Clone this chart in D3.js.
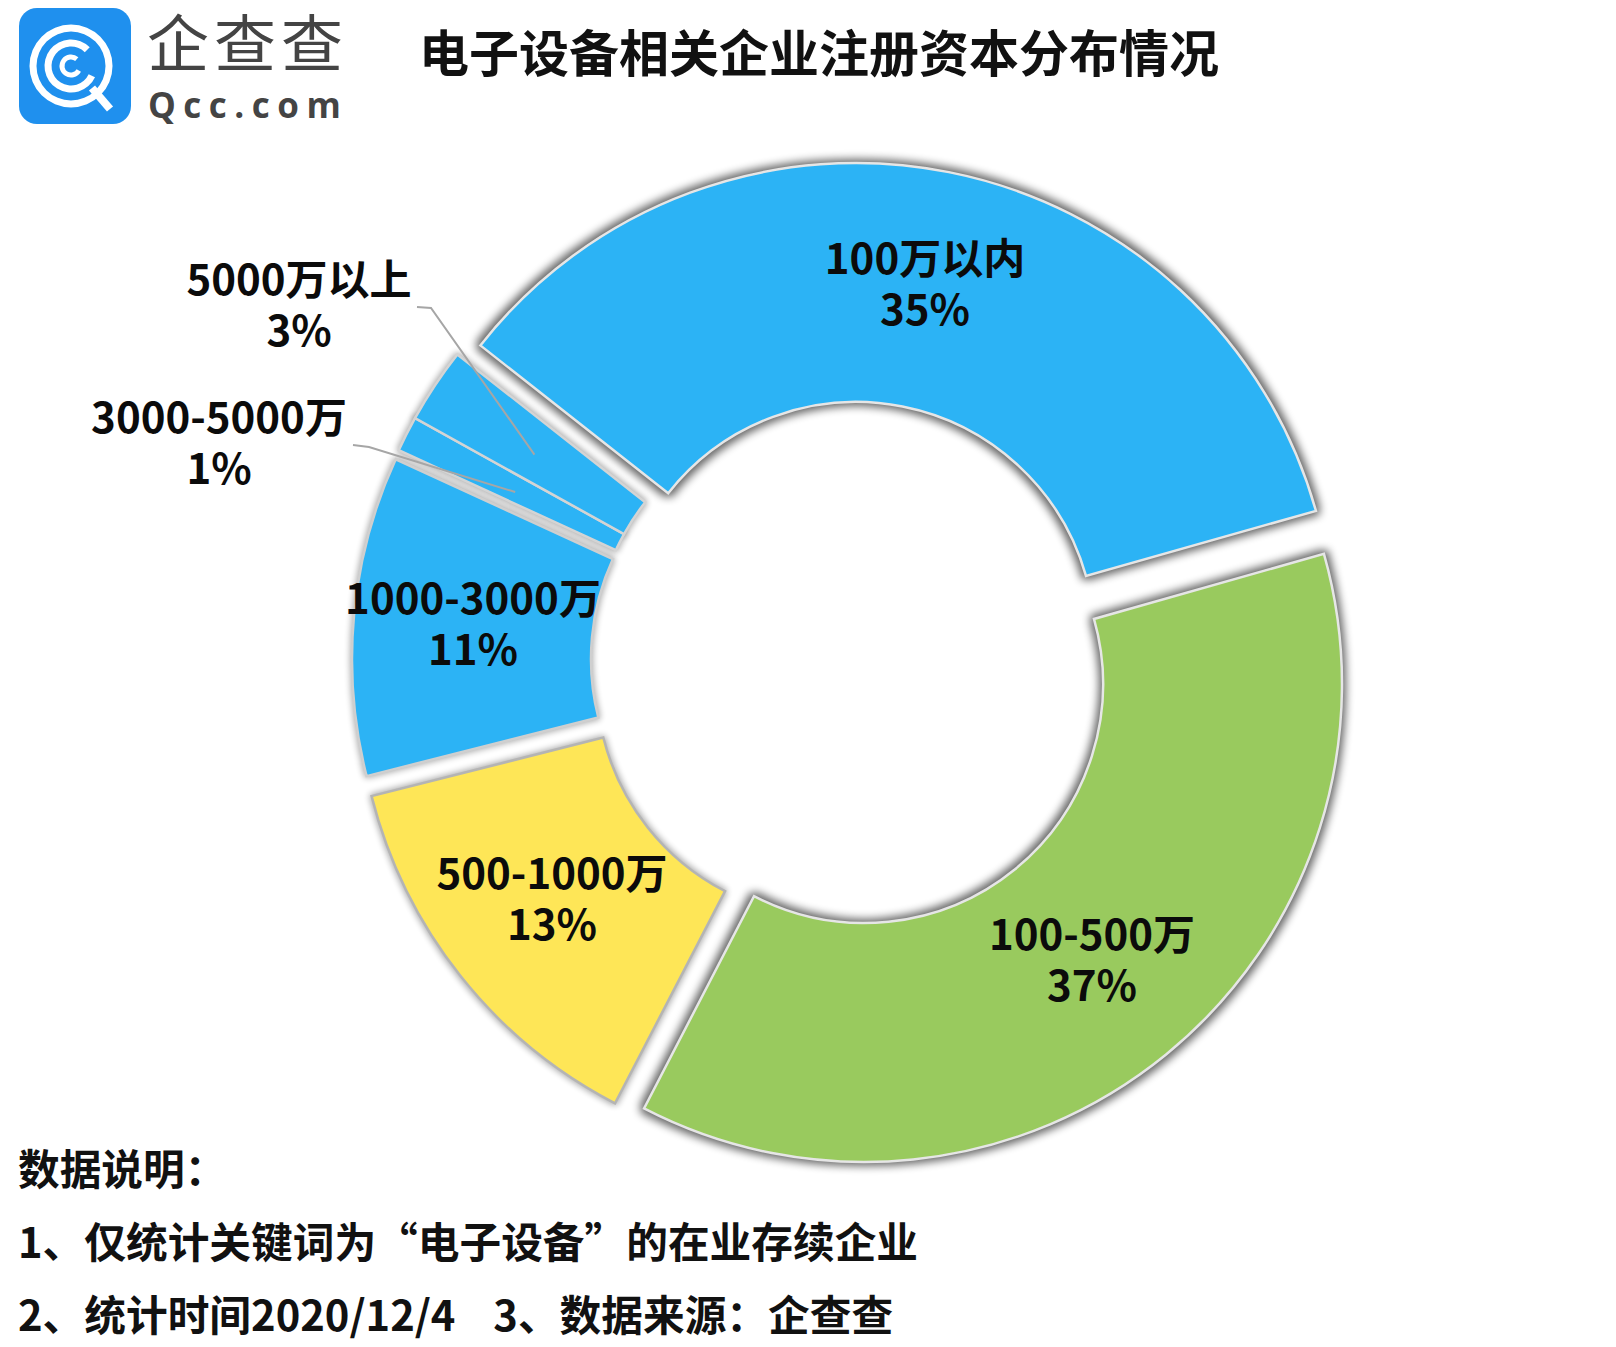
<!DOCTYPE html>
<html>
<head>
<meta charset="utf-8">
<title>电子设备相关企业注册资本分布情况</title>
<script src="https://cdn.jsdelivr.net/npm/d3@7"></script>
<style>
  html, body { margin: 0; padding: 0; background: #fff; }
  svg { display: block; }
  text { font-family: "Noto Sans CJK SC", "Noto Sans", sans-serif; }
</style>
</head>
<body>
<div id="chart"></div>
<script>
// data
const categories = ['100万以内', '100-500万', '500-1000万', '1000-3000万', '3000-5000万', '5000万以上'];
const shares = [35, 37, 13.45, 10.8, 1.2, 2.55];
const sliceColors = ['#2cb3f5', '#99ca5e', '#fee657', '#2cb3f5', '#2cb3f5', '#2cb3f5'];
const notes = [
  '数据说明：',
  '1、仅统计关键词为“电子设备”的在业存续企业',
  '2、统计时间2020/12/4\u00a0\u00a0\u00a0\u00a03、数据来源：企查查'
];

// layout
const width = 1616, height = 1347;
const cx = 856, cy = 670;
const outerR = 478, innerR = 239;
const startAngle = -51.8 * Math.PI / 180;
// how far each slice was pulled out of the ring
const sliceShift = [[0, -29], [8, 14], [-21, 9], [-26, -11], [-23, -20], [-23, -20]];
const sliceStroke = ['#e6e6e6', '#e6e6e6', '#b4b4b4', '#cfcfcf', '#d4d4d4', '#d4d4d4'];
const sliceShade = ['strong', 'strong', 'weak', 'weak', 'weak', 'weak'];
// hand placed labels, centre of the first line
const labelPos = [[925, 259], [1092, 935], [552, 874], [473, 599], [219, 418], [299, 280]];
// the two leader lines: start, knee, nudge of the end from the slice centroid
const leaders = { 4: [[353, 445], [369, 447], [2, 4]], 5: [[417, 307], [431, 308], [0, 3]] };

const svg = d3.select('#chart').append('svg')
  .attr('width', width)
  .attr('height', height);

const defs = svg.append('defs');
function makeShadow(id, spread, blur) {
  const f = defs.append('filter')
    .attr('id', id)
    .attr('x', '-15%').attr('y', '-15%')
    .attr('width', '130%').attr('height', '130%');
  f.append('feMorphology').attr('operator', 'dilate').attr('radius', spread);
  f.append('feGaussianBlur').attr('stdDeviation', blur);
}
makeShadow('strong', 4, 4);
makeShadow('weak', 1.5, 3);

// logo
const logo = svg.append('g');
logo.append('rect')
  .attr('x', 19).attr('y', 8)
  .attr('width', 112).attr('height', 116)
  .attr('rx', 18)
  .attr('fill', '#1f90ee');

function ring(r, w, a0, a1) {
  return d3.arc().innerRadius(r - w / 2).outerRadius(r + w / 2)
    .startAngle(a0 * Math.PI / 180).endAngle(a1 * Math.PI / 180)();
}
const logoMark = logo.append('g').attr('transform', 'translate(71,66)').attr('fill', '#fff');
logoMark.append('path').attr('d', ring(38, 7, 0, 360));
logoMark.append('path').attr('d', ring(23, 7, 115, 405));
logoMark.append('path').attr('d', ring(9, 5, 120, 400));
logo.append('line')
  .attr('x1', 92).attr('y1', 88).attr('x2', 110).attr('y2', 109)
  .attr('stroke', '#fff').attr('stroke-width', 8);

logo.append('text')
  .attr('x', 147).attr('y', 67)
  .attr('font-size', 62).attr('font-weight', 400)
  .attr('letter-spacing', 5)
  .attr('fill', '#444')
  .text('企查查');
logo.append('text')
  .attr('x', 148).attr('y', 118)
  .attr('font-size', 35).attr('font-weight', 700)
  .attr('letter-spacing', 7.5)
  .attr('fill', '#444')
  .style('font-family', '"Open Sans", sans-serif')
  .text('Qcc.com');

// title
svg.append('text')
  .attr('x', 419).attr('y', 72)
  .attr('font-size', 50).attr('font-weight', 700)
  .attr('fill', '#111')
  .text('电子设备相关企业注册资本分布情况');

// donut
const pie = d3.pie().sort(null)
  .startAngle(startAngle)
  .endAngle(startAngle + 2 * Math.PI);
const arc = d3.arc().innerRadius(innerR).outerRadius(outerR);
const arcs = pie(shares);
const shiftOf = (d, i) => `translate(${sliceShift[i][0]},${sliceShift[i][1]})`;

const donut = svg.append('g').attr('transform', `translate(${cx},${cy})`);
// shadows go down first so they do not dirty the neighbouring slice
donut.selectAll('path.shade')
  .data(arcs)
  .enter()
  .append('path')
  .attr('class', 'shade')
  .attr('transform', shiftOf)
  .attr('d', arc)
  .attr('fill', '#000')
  .attr('opacity', (d, i) => sliceShade[i] === 'strong' ? 0.6 : 0.32)
  .attr('filter', (d, i) => `url(#${sliceShade[i]})`);
donut.selectAll('path.slice')
  .data(arcs)
  .enter()
  .append('path')
  .attr('class', 'slice')
  .attr('transform', shiftOf)
  .attr('d', arc)
  .attr('fill', (d, i) => sliceColors[i])
  .attr('stroke', (d, i) => sliceStroke[i])
  .attr('stroke-width', 2.5);

// leader lines end at the slice centroid
Object.keys(leaders).forEach(k => {
  const c = arc.centroid(arcs[k]);
  const [start, knee, nudge] = leaders[k];
  const end = [cx + sliceShift[k][0] + c[0] + nudge[0], cy + sliceShift[k][1] + c[1] + nudge[1]];
  svg.append('path')
    .attr('d', d3.line()([start, knee, end]))
    .attr('fill', 'none')
    .attr('stroke', '#a6a6a6')
    .attr('stroke-width', 2);
});

// labels
const labels = svg.selectAll('text.label')
  .data(arcs)
  .enter()
  .append('text')
  .attr('class', 'label')
  .attr('transform', (d, i) => `translate(${labelPos[i][0]},${labelPos[i][1]})`)
  .attr('text-anchor', 'middle')
  .attr('font-size', 42)
  .attr('font-weight', 700)
  .attr('fill', '#0b0b0b');
labels.append('tspan').attr('x', 0).attr('y', 15).text((d, i) => categories[i]);
labels.append('tspan').attr('x', 0).attr('y', 66).text(d => Math.round(d.value) + '%');

// notes
svg.selectAll('text.note')
  .data(notes)
  .enter()
  .append('text')
  .attr('class', 'note')
  .attr('x', 18)
  .attr('y', (d, i) => 1185 + i * 73)
  .attr('font-size', 41.7)
  .attr('font-weight', 700)
  .attr('fill', '#111')
  .text(d => d);
</script>
</body>
</html>
